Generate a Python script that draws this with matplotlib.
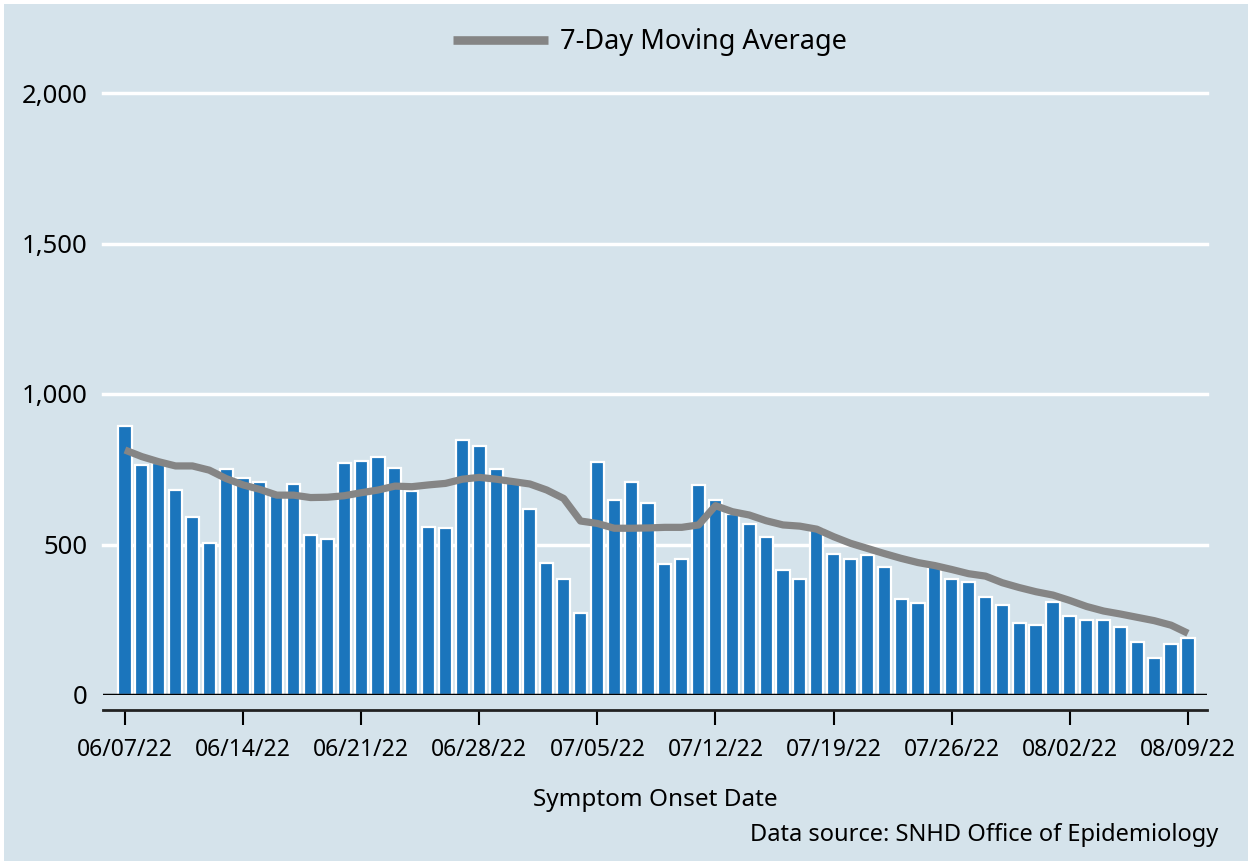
import numpy as np
import pandas as pd
import matplotlib
matplotlib.use("Agg")
import matplotlib.pyplot as plt
from matplotlib.patches import Rectangle

# daily cases by symptom onset date, 06/07/22 - 08/09/22
dates = pd.date_range("2022-06-07", "2022-08-09", freq="D")
cases = [894, 764, 770, 681, 592, 504, 750, 722, 709, 660, 700, 532, 517, 770,
         778, 791, 753, 679, 557, 554, 846, 826, 750, 704, 619, 437, 386, 273,
         775, 648, 709, 637, 436, 452, 699, 648, 600, 568, 526, 415, 384, 553,
         468, 451, 465, 426, 318, 304, 428, 387, 376, 324, 300, 238, 234, 310,
         263, 249, 249, 227, 175, 124, 168, 190]
moving_avg = [814, 792, 775, 761, 761, 747, 719, 698, 683, 664, 664, 656, 657, 662,
              672, 681, 694, 692, 698, 703, 717, 723, 717, 709, 701, 681, 653, 578,
              570, 554, 554, 555, 557, 557, 565, 629, 609, 598, 579, 565, 561, 551,
              526, 504, 487, 470, 454, 440, 430, 417, 403, 395, 373, 357, 343, 332,
              314, 294, 279, 269, 258, 247, 232, 205]
tick_idx = list(range(0, 64, 7))
tick_labels = [dates[i].strftime("%m/%d/%y") for i in tick_idx]
y_ticks = [0, 500, 1000, 1500, 2000]

bg = "#d5e3eb"
plt.rcParams["font.family"] = ["Noto Sans", "DejaVu Sans"]

fig = plt.figure(figsize=(12.52, 8.65), dpi=100, facecolor="white")
frame = Rectangle((4 / 1252, 4 / 865), 1 - 8 / 1252, 1 - 8 / 865,
                  transform=fig.transFigure, facecolor=bg, edgecolor="none", zorder=-5)
fig.add_artist(frame)
ax = fig.add_axes([103 / 1252, 1 - 695 / 865, (1207 - 103) / 1252, (695 - 93) / 865])
ax.set_facecolor(bg)

x = np.arange(len(cases))
ax.bar(x, cases, width=0.78, color="#1b75bc", edgecolor="white", linewidth=1.6, zorder=2)
ax.plot(x, moving_avg, color="#858585", lw=5.2, solid_capstyle="butt", zorder=3,
        label="7-Day Moving Average")

ax.set_xlim(-1.3, 64.13)
ax.set_ylim(0, 2000)
ax.set_yticks(y_ticks)
ax.set_yticklabels([f"{v:,}" for v in y_ticks])
ax.tick_params(axis="y", length=0, pad=11, labelsize=18.5)
for v in y_ticks[1:]:
    ax.axhline(v, color="white", lw=2.5, zorder=1, clip_on=False)
ax.axhline(0, color="black", lw=2.5, zorder=4)

ax.set_xticks(tick_idx)
ax.set_xticklabels(tick_labels)
ax.tick_params(axis="x", direction="out", length=11, width=1.5, color="black",
               pad=9, labelsize=16.5)
for s in ["top", "right", "left"]:
    ax.spines[s].set_visible(False)
ax.spines["bottom"].set_position(("outward", 11))
ax.spines["bottom"].set_linewidth(2)
ax.spines["bottom"].set_color("#222222")

ax.set_xlabel("Symptom Onset Date", fontsize=17.5, labelpad=19)
fig.text(1218 / 1252, 1 - 835 / 865, "Data source: SNHD Office of Epidemiology",
         ha="right", va="center", fontsize=17)

leg = ax.legend(loc="center", frameon=False, fontsize=19.5, handlelength=3.5,
                handletextpad=0.45,
                bbox_to_anchor=(650 / 1252, 1 - 42 / 865),
                bbox_transform=fig.transFigure)
leg.get_lines()[0].set_linewidth(6.2)

fig.savefig("out.png", dpi=100)
